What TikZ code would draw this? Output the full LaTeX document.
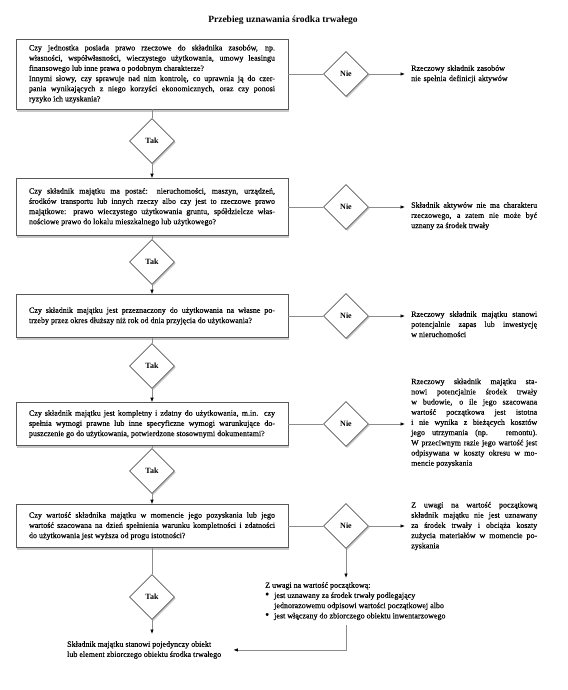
\documentclass[tikz,border=0pt]{standalone}
\usepackage{fontspec}
\setmainfont{Liberation Serif}
\newfontfamily\heavyserif{Liberation Serif}[FakeBold=0.3]
\usetikzlibrary{positioning, shapes.geometric, arrows.meta, shadows}
\colorlet{edge}{black!45}
\colorlet{frame}{black!65}
\colorlet{shade}{black!40}
\newcommand{\flowfont}{\heavyserif\fontsize{8}{10.2}\selectfont}
\newcommand{\flowdot}{\makebox[9pt][l]{\raisebox{0.2pt}{\scalebox{1.4}{\textbullet}}}}
\tikzset{
  question/.style={draw=frame, fill=white, line width=0.6pt,
                   text width=246pt, align=justify, inner xsep=13pt,
                   inner ysep=6pt, minimum height=43pt, font=\flowfont,
                   drop shadow={shadow xshift=1.2pt, shadow yshift=-2.5pt,
                                fill=shade, opacity=0.55}},
  answer/.style  ={diamond, draw=frame, fill=white, line width=0.6pt,
                   minimum width=45pt, minimum height=45pt, inner sep=0pt,
                   font=\fontsize{8}{10.2}\selectfont\bfseries,
                   drop shadow={shadow xshift=1.2pt, shadow yshift=-1.5pt,
                                fill=shade, opacity=0.55}},
  verdict/.style ={text width=126pt, align=justify, inner sep=0pt,
                   font=\flowfont},
  link/.style    ={edge, line width=0.7pt},
  flow/.style    ={link, -{Latex[length=4.5pt, width=3.5pt, color=black]}},
}

\begin{document}
\begin{tikzpicture}[x=1pt, y=-1pt]
\useasboundingbox (0,0) rectangle (567,690);

\node[font=\fontsize{9.5}{11}\selectfont\bfseries] (title) at (283,20)
  {Przebieg uznawania środka trwałego};

% pytania
\node[question] (q1) at (152,74)
  {Czy jednostka posiada prawo rzeczowe do składnika zasobów, np.\linebreak
   własności, współwłasności, wieczystego użytkowania, umowy leasingu\linebreak
   finansowego lub inne prawa o podobnym charakterze?\\
   Innymi słowy, czy sprawuje nad nim kontrolę, co uprawnia ją do czer-\linebreak
   pania wynikających z niego korzyści ekonomicznych, oraz czy ponosi\linebreak
   ryzyko ich uzyskania?};
\node[question, minimum height=57pt] (q2) at (152,207)
  {Czy składnik majątku ma postać: nieruchomości, maszyn, urządzeń,\linebreak
   środków transportu lub innych rzeczy albo czy jest to rzeczowe prawo\linebreak
   majątkowe: prawo wieczystego użytkowania gruntu, spółdzielcze włas-\linebreak
   nościowe prawo do lokalu mieszkalnego lub użytkowego?};
\node[question] (q3) at (152,316)
  {Czy składnik majątku jest przeznaczony do użytkowania na własne po-\linebreak
   trzeby przez okres dłuższy niż rok od dnia przyjęcia do użytkowania?};
\node[question] (q4) at (152,424)
  {Czy składnik majątku jest kompletny i zdatny do użytkowania, m.in. czy\linebreak
   spełnia wymogi prawne lub inne specyficzne wymogi warunkujące do-\linebreak
   puszczenie go do użytkowania, potwierdzone stosownymi dokumentami?};
\node[question] (q5) at (152,526)
  {Czy wartość składnika majątku w momencie jego pozyskania lub jego\linebreak
   wartość szacowana na dzień spełnienia warunku kompletności i zdatności\linebreak
   do użytkowania jest wyższa od progu istotności?};

% odpowiedzi
\foreach \i/\ny/\ty in {1/74/141, 2/207/262, 3/316/366, 4/424/471, 5/526/597} {
  \node[answer] (nie\i) at (346,\ny) {Nie};
  \node[answer] (tak\i) at (152,\ty) {Tak};
  \draw[link] (q\i) -- (nie\i);
  \draw[link] (q\i) -- (tak\i);
}
\foreach \i/\j in {1/2, 2/3, 3/4, 4/5}
  \draw[flow] (tak\i) -- (q\j);

% wnioski
\node[verdict, align=left, anchor=west] (v1) at (411,74)
  {Rzeczowy składnik zasobów\\ nie spełnia definicji aktywów};
\node[verdict, anchor=north west] (v2) at (411,202)
  {Składnik aktywów nie ma charakteru\linebreak
   rzeczowego, a zatem nie może być\linebreak
   uznany za środek trwały};
\node[verdict, anchor=north west] (v3) at (411,311)
  {Rzeczowy składnik majątku stanowi\linebreak
   potencjalnie zapas lub inwestycję\linebreak
   w nieruchomości};
\node[verdict, anchor=west] (v4) at (411,423)
  {Rzeczowy składnik majątku sta-\linebreak
   nowi potencjalnie środek trwały\linebreak
   w budowie, o ile jego szacowana\linebreak
   wartość początkowa jest istotna\linebreak
   i nie wynika z bieżących kosztów\linebreak
   jego utrzymania (np. remontu).\linebreak
   W przeciwnym razie jego wartość jest\linebreak
   odpisywana w koszty okresu w mo-\linebreak
   mencie pozyskania};
\node[verdict, anchor=west] (v5) at (411,526)
  {Z uwagi na wartość początkową\linebreak
   składnik majątku nie jest uznawany\linebreak
   za środek trwały i obciąża koszty\linebreak
   zużycia materiałów w momencie po-\linebreak
   zyskania};
\foreach \i in {1,...,5}
  \draw[flow, shorten >=6pt] (nie\i) -- (nie\i.east -| v\i.west);

\node[font=\flowfont, align=left, inner sep=0pt, anchor=north west] (uwagi)
  at (265,582)
  {Z uwagi na wartość początkową:\\
   \flowdot jest uznawany za środek trwały podlegający\\
   \hspace*{9pt}jednorazowemu odpisowi wartości początkowej albo\\
   \flowdot jest włączany do zbiorczego obiektu inwentarzowego};
\node[font=\flowfont, align=left, inner sep=0pt, anchor=north west] (koniec)
  at (67,641)
  {Składnik majątku stanowi pojedynczy obiekt\\
   lub element zbiorczego obiektu środka trwałego};

\draw[flow, shorten >=4pt] (nie5) -- (nie5.south |- uwagi.north);
\draw[flow, shorten >=7pt] (tak5) -- (tak5.south |- koniec.north);
\draw[flow, shorten <=5pt, shorten >=12pt] (uwagi.south -| nie5.south) |- (koniec.east);

\end{tikzpicture}
\end{document}
